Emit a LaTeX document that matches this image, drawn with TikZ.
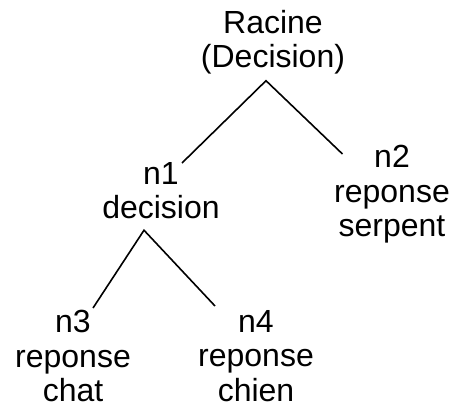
\documentclass[tikz,border=0pt]{standalone}
\usepackage{fontspec}
\setmainfont{Liberation Sans}
\usetikzlibrary{calc}
\begin{document}
\begin{tikzpicture}[x=1pt,y=1pt,
  lbl/.style={align=center,inner sep=0pt,anchor=north,font=\fontsize{32}{34.5}\selectfont},
  edge/.style={line width=1.6pt}]
\useasboundingbox (0,0) rectangle (457,-407);
\node[lbl] (root) at (273,-10) {Racine\\(Decision)};
\node[lbl] (n1) at (161,-162) {n1\\decision};
\node[lbl] (n2) at (392,-145) {n2\\reponse\\serpent};
\node[lbl] (n3) at (73,-310) {n3\\reponse\\chat};
\node[lbl] (n4) at (256,-310) {n4\\reponse\\chien};
\draw[edge] ($(n1.north)+(21,-1)$) -- ($(root.south)+(-7,-6)$) -- ($(n2.north west)+(8.5,-9)$);
\draw[edge] ($(n3.north)+(20,2)$) -- ($(n1.south)+(-17,-11)$) -- ($(n4.north)+(-41,4)$);
\end{tikzpicture}
\end{document}
